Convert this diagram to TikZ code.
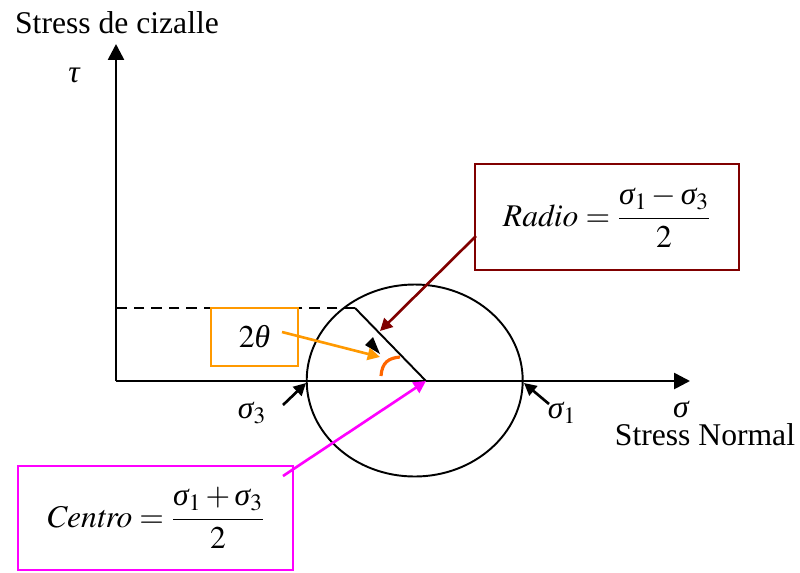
\documentclass[tikz,border=0pt]{standalone}
\usepackage{amsmath}
\usepackage{mathptmx}
\usepackage[no-math]{fontspec}
\setmainfont{Liberation Serif}
\usetikzlibrary{arrows.meta,positioning}
\definecolor{boxred}{RGB}{128,0,0}
\definecolor{boxorange}{RGB}{255,153,0}
\definecolor{arcorange}{RGB}{255,102,0}
\definecolor{boxpink}{RGB}{255,0,255}
\newcommand{\gk}[1]{\mbox{\itshape #1}}
\tikzset{
  axis/.style={line width=1.5pt,-{Triangle[length=9pt,width=9pt]}},
  pointer/.style={line width=1.5pt,-{Triangle[length=7pt,width=7pt]}},
  formula/.style={draw,line width=1pt,inner sep=0pt},
}
\begin{document}
\begin{tikzpicture}[x=0.02cm,y=-0.02cm,font=\fontsize{18}{21}\selectfont,>=Latex]
\useasboundingbox (0,0) rectangle (800,572);
% axes
\coordinate (o) at (116,381);
\coordinate (ytip) at (116,44);
\coordinate (xtip) at (690,381);
\draw[axis] (o) -- (ytip);
\draw[axis] (o) -- (xtip);
\node (ylab) at (117,23) {Stress de cizalle};
\node (tau) at (74,75) {$\gk{τ}$};
\node (sig) at (681,409) {$\gk{σ}$};
\node (xlab) at (705,435) {Stress Normal};
% circle and radius
\coordinate (c) at (414.7,380.5);
\coordinate (r) at (426,381);
\coordinate (top) at (355,308);
\draw[line width=1.1pt] (c) ellipse [x radius=108,y radius=96];
\draw[line width=1.1pt] (r) -- (top);
\draw[line width=1.1pt,dashed,dash pattern=on 6pt off 4pt] (top) -- (116,308);
% sigma labels
\node (s3) at (252,413) {$\gk{σ}_3$};
\node (s1) at (562,413) {$\gk{σ}_1$};
\coordinate (s3a) at (283,405);
\coordinate (s1a) at (549,404);
\draw[pointer] (s3a) -- (306,383);
\draw[pointer] (s1a) -- (524,383);
% boxes
\node[formula,draw=boxred,minimum width=5.28cm,minimum height=2.12cm] (radio) at (607,217)
  {$\mathit{Radio}=\dfrac{\gk{σ}_1-\gk{σ}_3}{2}$};
\node[formula,draw=boxpink,minimum width=5.5cm,minimum height=2.08cm] (centro) at (155.5,518)
  {$\mathit{Centro}=\dfrac{\gk{σ}_1+\gk{σ}_3}{2}$};
\node[formula,draw=boxorange,minimum width=1.74cm,minimum height=1.16cm] (theta) at (254.5,337) {$2\gk{θ}$};
% connectors
\coordinate (r0) at (476,236);
\coordinate (m0) at (283,476);
\coordinate (t0) at (282,332);
\draw[pointer,boxred] (r0) -- (380,331);
\draw[pointer,boxpink] (m0) -- (r);
\fill (380,354) -- (365,345) -- (373,337) -- cycle;
\draw[pointer,boxorange] (t0) -- (380,357);
\draw[line width=1.8pt,arcorange] (381,376) .. controls (382,362) and (389,358) .. (400,357);
\end{tikzpicture}
\end{document}
